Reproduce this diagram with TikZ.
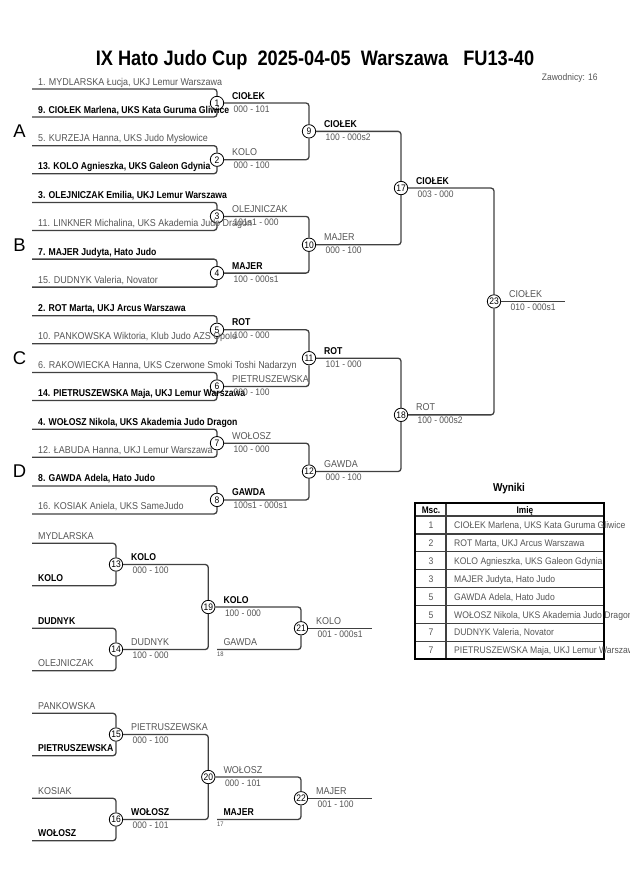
\documentclass[tikz,border=0pt]{standalone}
\usepackage{fontspec}
\setmainfont{Liberation Sans}
\newfontfamily\condfont{Liberation Sans}[FakeStretch=0.9,BoldFeatures={FakeStretch=0.87}]
\definecolor{txtgrey}{HTML}{555555}
\definecolor{linegrey}{HTML}{404040}
\newcommand{\namefont}{\condfont\fontsize{10}{11}\selectfont}
\newcommand{\tablefont}{\condfont\fontsize{9.6}{11}\selectfont}
\newcommand{\scorefont}{\condfont\fontsize{9.5}{10}\selectfont}
\newcommand{\tinyfont}{\condfont\fontsize{6.5}{7}\selectfont}

\begin{document}
\begin{tikzpicture}[x=1bp,y=-1bp,
  match/.style={circle,draw=black,fill=white,line width=0.8bp,minimum size=13.4bp,inner sep=0pt,font=\scorefont},
  bline/.style={draw=linegrey,line width=1.3bp,rounded corners=3bp},
  nm/.style={anchor=base west,inner sep=0pt,text=txtgrey,font=\namefont},
  nmb/.style={nm,text=black,font=\namefont\bfseries},
  sc/.style={anchor=base west,inner sep=0pt,text=txtgrey,font=\scorefont},
  tag/.style={anchor=base west,inner sep=0pt,text=txtgrey,font=\tinyfont},
  cell/.style={anchor=base,inner sep=0pt,text=txtgrey,font=\tablefont}]
\useasboundingbox (0,0) rectangle (630,891);
\newcommand{\xa}{32}
\newcommand{\xb}{217}
\newcommand{\xc}{309}
\newcommand{\xd}{401}
\newcommand{\xe}{494}

% title
\node[anchor=base,inner sep=0pt,font=\condfont\fontsize{21}{23}\selectfont\bfseries] (title) at (315,65) {IX Hato Judo Cup\ \ 2025-04-05\ \ Warszawa\ \ \ FU13-40};
\node[sc] (count) at (541.7,80) {Zawodnicy: 16};

% pools
\node[font=\fontsize{18.5}{20}\selectfont] (poolA) at (19.5,131.35) {A};
\node[font=\fontsize{18.5}{20}\selectfont] (poolB) at (19.5,244.75) {B};
\node[font=\fontsize{18.5}{20}\selectfont] (poolC) at (19.5,358.15) {C};
\node[font=\fontsize{18.5}{20}\selectfont] (poolD) at (19.5,471.55) {D};

% main bracket
\node[match] (m1) at (\xb,103) {1};
\node[match] (m2) at (\xb,159.7) {2};
\node[match] (m3) at (\xb,216.4) {3};
\node[match] (m4) at (\xb,273.1) {4};
\node[match] (m5) at (\xb,329.8) {5};
\node[match] (m6) at (\xb,386.5) {6};
\node[match] (m7) at (\xb,443.2) {7};
\node[match] (m8) at (\xb,499.9) {8};
\node[match] (m9) at (\xc,131.35) {9};
\node[match] (m10) at (\xc,244.75) {10};
\node[match] (m11) at (\xc,358.15) {11};
\node[match] (m12) at (\xc,471.55) {12};
\node[match] (m17) at (\xd,188.05) {17};
\node[match] (m18) at (\xd,414.85) {18};
\node[match] (m23) at (\xe,301.45) {23};
\coordinate (fin) at (565,301.45);

\coordinate (p1a) at (\xa,89);    \coordinate (p1b) at (\xa,117);
\coordinate (p2a) at (\xa,145.7); \coordinate (p2b) at (\xa,173.7);
\coordinate (p3a) at (\xa,202.4); \coordinate (p3b) at (\xa,230.4);
\coordinate (p4a) at (\xa,259.1); \coordinate (p4b) at (\xa,287.1);
\coordinate (p5a) at (\xa,315.8); \coordinate (p5b) at (\xa,343.8);
\coordinate (p6a) at (\xa,372.5); \coordinate (p6b) at (\xa,400.5);
\coordinate (p7a) at (\xa,429.2); \coordinate (p7b) at (\xa,457.2);
\coordinate (p8a) at (\xa,485.9); \coordinate (p8b) at (\xa,513.9);

\draw[bline] (p1a) -| (m1); \draw[bline] (p1b) -| (m1);
\draw[bline] (p2a) -| (m2); \draw[bline] (p2b) -| (m2);
\draw[bline] (p3a) -| (m3); \draw[bline] (p3b) -| (m3);
\draw[bline] (p4a) -| (m4); \draw[bline] (p4b) -| (m4);
\draw[bline] (p5a) -| (m5); \draw[bline] (p5b) -| (m5);
\draw[bline] (p6a) -| (m6); \draw[bline] (p6b) -| (m6);
\draw[bline] (p7a) -| (m7); \draw[bline] (p7b) -| (m7);
\draw[bline] (p8a) -| (m8); \draw[bline] (p8b) -| (m8);
\draw[bline] (m1) -| (m9); \draw[bline] (m2) -| (m9);
\draw[bline] (m3) -| (m10); \draw[bline] (m4) -| (m10);
\draw[bline] (m5) -| (m11); \draw[bline] (m6) -| (m11);
\draw[bline] (m7) -| (m12); \draw[bline] (m8) -| (m12);
\draw[bline] (m9) -| (m17); \draw[bline] (m10) -| (m17);
\draw[bline] (m11) -| (m18); \draw[bline] (m12) -| (m18);
\draw[bline] (m17) -| (m23); \draw[bline] (m18) -| (m23);
\draw[bline] (m23) -- (fin);

\node[nm] (n1a) at (38,85) {1. MYDLARSKA Łucja, UKJ Lemur Warszawa};
\node[nmb] (n1b) at (38,113) {9. CIOŁEK Marlena, UKS Kata Guruma Gliwice};
\node[nm] (n2a) at (38,141.7) {5. KURZEJA Hanna, UKS Judo Mysłowice};
\node[nmb] (n2b) at (38,169.7) {13. KOLO Agnieszka, UKS Galeon Gdynia};
\node[nmb] (n3a) at (38,198.4) {3. OLEJNICZAK Emilia, UKJ Lemur Warszawa};
\node[nm] (n3b) at (38,226.4) {11. LINKNER Michalina, UKS Akademia Judo Dragon};
\node[nmb] (n4a) at (38,255.1) {7. MAJER Judyta, Hato Judo};
\node[nm] (n4b) at (38,283.1) {15. DUDNYK Valeria, Novator};
\node[nmb] (n5a) at (38,311.8) {2. ROT Marta, UKJ Arcus Warszawa};
\node[nm] (n5b) at (38,339.8) {10. PANKOWSKA Wiktoria, Klub Judo AZS Opole};
\node[nm] (n6a) at (38,368.5) {6. RAKOWIECKA Hanna, UKS Czerwone Smoki Toshi Nadarzyn};
\node[nmb] (n6b) at (38,396.5) {14. PIETRUSZEWSKA Maja, UKJ Lemur Warszawa};
\node[nmb] (n7a) at (38,425.2) {4. WOŁOSZ Nikola, UKS Akademia Judo Dragon};
\node[nm] (n7b) at (38,453.2) {12. ŁABUDA Hanna, UKJ Lemur Warszawa};
\node[nmb] (n8a) at (38,481.9) {8. GAWDA Adela, Hato Judo};
\node[nm] (n8b) at (38,509.9) {16. KOSIAK Aniela, UKS SameJudo};

\node[nmb] (w1) at (232,99) {CIOŁEK};      \node[sc] (s1) at (233.5,112) {000 - 101};
\node[nm] (w2) at (232,155.7) {KOLO};       \node[sc] (s2) at (233.5,168.7) {000 - 100};
\node[nm] (w3) at (232,212.4) {OLEJNICZAK}; \node[sc] (s3) at (233.5,225.4) {101s1 - 000};
\node[nmb] (w4) at (232,269.1) {MAJER};     \node[sc] (s4) at (233.5,282.1) {100 - 000s1};
\node[nmb] (w5) at (232,325.8) {ROT};       \node[sc] (s5) at (233.5,338.8) {100 - 000};
\node[nm] (w6) at (232,382.5) {PIETRUSZEWSKA}; \node[sc] (s6) at (233.5,395.5) {000 - 100};
\node[nm] (w7) at (232,439.2) {WOŁOSZ};     \node[sc] (s7) at (233.5,452.2) {100 - 000};
\node[nmb] (w8) at (232,495.9) {GAWDA};     \node[sc] (s8) at (233.5,508.9) {100s1 - 000s1};
\node[nmb] (w9) at (324,127.35) {CIOŁEK};   \node[sc] (s9) at (325.5,140.35) {100 - 000s2};
\node[nm] (w10) at (324,240.75) {MAJER};    \node[sc] (s10) at (325.5,253.75) {000 - 100};
\node[nmb] (w11) at (324,354.15) {ROT};     \node[sc] (s11) at (325.5,367.15) {101 - 000};
\node[nm] (w12) at (324,467.55) {GAWDA};    \node[sc] (s12) at (325.5,480.55) {000 - 100};
\node[nmb] (w17) at (416,184.05) {CIOŁEK};  \node[sc] (s17) at (417.5,197.05) {003 - 000};
\node[nm] (w18) at (416,410.85) {ROT};      \node[sc] (s18) at (417.5,423.85) {100 - 000s2};
\node[nm] (w23) at (509,297.45) {CIOŁEK};   \node[sc] (s23) at (510.5,310.45) {010 - 000s1};

% repechage
\node[match] (m13) at (116,564.5) {13};
\node[match] (m14) at (116,649.5) {14};
\node[match] (m19) at (208.3,607) {19};
\node[match] (m21) at (301,628.25) {21};
\node[match] (m15) at (116,734.5) {15};
\node[match] (m16) at (116,819.5) {16};
\node[match] (m20) at (208.3,777) {20};
\node[match] (m22) at (301,798.25) {22};
\coordinate (q13a) at (\xa,543.3); \coordinate (q13b) at (\xa,585.7);
\coordinate (q14a) at (\xa,628.3); \coordinate (q14b) at (\xa,670.7);
\coordinate (q15a) at (\xa,713.3); \coordinate (q15b) at (\xa,755.7);
\coordinate (q16a) at (\xa,798.3); \coordinate (q16b) at (\xa,840.7);
\coordinate (r18) at (\xb,649.5);
\coordinate (r17) at (\xb,819.5);
\coordinate (fin21) at (371.7,628.25);
\coordinate (fin22) at (371.7,798.25);

\draw[bline] (q13a) -| (m13); \draw[bline] (q13b) -| (m13);
\draw[bline] (q14a) -| (m14); \draw[bline] (q14b) -| (m14);
\draw[bline] (q15a) -| (m15); \draw[bline] (q15b) -| (m15);
\draw[bline] (q16a) -| (m16); \draw[bline] (q16b) -| (m16);
\draw[bline] (m13) -| (m19); \draw[bline] (m14) -| (m19);
\draw[bline] (m15) -| (m20); \draw[bline] (m16) -| (m20);
\draw[bline] (m19) -| (m21); \draw[bline] (r18) -| (m21);
\draw[bline] (m20) -| (m22); \draw[bline] (r17) -| (m22);
\draw[bline] (m21) -- (fin21);
\draw[bline] (m22) -- (fin22);

\node[nm] (k13a) at (38,539.3) {MYDLARSKA};
\node[nmb] (k13b) at (38,581.7) {KOLO};
\node[nmb] (k14a) at (38,624.3) {DUDNYK};
\node[nm] (k14b) at (38,666.7) {OLEJNICZAK};
\node[nm] (k15a) at (38,709.3) {PANKOWSKA};
\node[nmb] (k15b) at (38,751.7) {PIETRUSZEWSKA};
\node[nm] (k16a) at (38,794.3) {KOSIAK};
\node[nmb] (k16b) at (38,836.7) {WOŁOSZ};

\node[nmb] (w13) at (131,560.5) {KOLO};     \node[sc] (s13) at (132.5,573.5) {000 - 100};
\node[nm] (w14) at (131,645.5) {DUDNYK};    \node[sc] (s14) at (132.5,658.5) {100 - 000};
\node[nmb] (w19) at (223.3,603) {KOLO};     \node[sc] (s19) at (224.8,616) {100 - 000};
\node[nm] (g18) at (223.3,645.5) {GAWDA};   \node[tag] (t18) at (\xb,656) {18};
\node[nm] (w21) at (316,624.25) {KOLO};     \node[sc] (s21) at (317.5,637.25) {001 - 000s1};
\node[nm] (w15) at (131,730.5) {PIETRUSZEWSKA}; \node[sc] (s15) at (132.5,743.5) {000 - 100};
\node[nmb] (w16) at (131,815.5) {WOŁOSZ};   \node[sc] (s16) at (132.5,828.5) {000 - 101};
\node[nm] (w20) at (223.3,773) {WOŁOSZ};    \node[sc] (s20) at (224.8,786) {000 - 101};
\node[nmb] (g17) at (223.3,815.5) {MAJER};  \node[tag] (t17) at (\xb,826) {17};
\node[nm] (w22) at (316,794.25) {MAJER};    \node[sc] (s22) at (317.5,807.25) {001 - 100};

% results
\node[anchor=base,inner sep=0pt,font=\condfont\fontsize{11.5}{12}\selectfont\bfseries] (res) at (509,491.5) {Wyniki};
\draw[linegrey,line width=1.2bp] (415,516) -- (604,516);
\draw[linegrey,line width=1.2bp] (415,533.9) -- (604,533.9);
\draw[linegrey,line width=1.2bp] (415,551.8) -- (604,551.8);
\draw[linegrey,line width=1.2bp] (415,569.7) -- (604,569.7);
\draw[linegrey,line width=1.2bp] (415,587.6) -- (604,587.6);
\draw[linegrey,line width=1.2bp] (415,605.5) -- (604,605.5);
\draw[linegrey,line width=1.2bp] (415,623.4) -- (604,623.4);
\draw[linegrey,line width=1.2bp] (415,641.3) -- (604,641.3);
\draw[linegrey,line width=1.2bp] (446,503.3) -- (446,659.2);
\draw[black,line width=1.8bp] (415,503.3) rectangle (604,659.2);
\node[cell,text=black,font=\tablefont\bfseries] (hmsc) at (431,513.5) {Msc.};
\node[cell,text=black,font=\tablefont\bfseries] (hname) at (525,513.5) {Imię};
\node[cell] (r1) at (431,528.5) {1};
\node[cell] (r2) at (431,546.4) {2};
\node[cell] (r3) at (431,564.3) {3};
\node[cell] (r4) at (431,582.2) {3};
\node[cell] (r5) at (431,600.1) {5};
\node[cell] (r6) at (431,618) {5};
\node[cell] (r7) at (431,635.9) {7};
\node[cell] (r8) at (431,653.8) {7};
\node[cell,anchor=base west] (e1) at (454,528.5) {CIOŁEK Marlena, UKS Kata Guruma Gliwice};
\node[cell,anchor=base west] (e2) at (454,546.4) {ROT Marta, UKJ Arcus Warszawa};
\node[cell,anchor=base west] (e3) at (454,564.3) {KOLO Agnieszka, UKS Galeon Gdynia};
\node[cell,anchor=base west] (e4) at (454,582.2) {MAJER Judyta, Hato Judo};
\node[cell,anchor=base west] (e5) at (454,600.1) {GAWDA Adela, Hato Judo};
\node[cell,anchor=base west] (e6) at (454,618) {WOŁOSZ Nikola, UKS Akademia Judo Dragon};
\node[cell,anchor=base west] (e7) at (454,635.9) {DUDNYK Valeria, Novator};
\node[cell,anchor=base west] (e8) at (454,653.8) {PIETRUSZEWSKA Maja, UKJ Lemur Warszawa};
\end{tikzpicture}
\end{document}
